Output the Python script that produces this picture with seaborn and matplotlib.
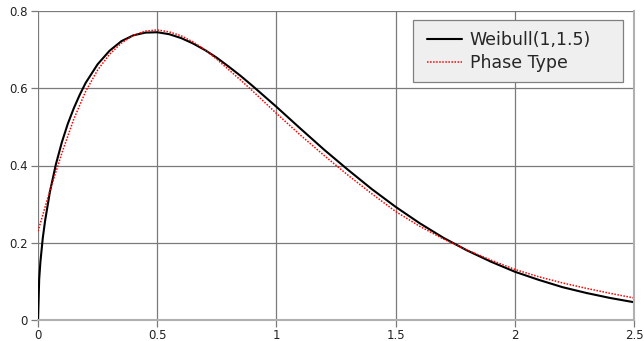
import matplotlib
matplotlib.use("Agg")
import matplotlib.pyplot as plt
from matplotlib.patches import Rectangle
import seaborn as sns
import pandas as pd

# Weibull(1,1.5) density
weibull_x = [0.0, 0.005, 0.01, 0.02, 0.03, 0.05, 0.075, 0.1, 0.125, 0.15, 0.175, 0.2, 0.25,
             0.3, 0.35, 0.4, 0.45, 0.5, 0.55, 0.6, 0.65, 0.7, 0.75, 0.8, 0.85, 0.9, 0.95,
             1.0, 1.1, 1.2, 1.3, 1.4, 1.5, 1.6, 1.7, 1.8, 1.9,
             2.0, 2.1, 2.2, 2.3, 2.4, 2.5]
weibull_y = [0.0, 0.106, 0.150, 0.212, 0.258, 0.332, 0.403, 0.460, 0.508, 0.548, 0.583, 0.614,
             0.662, 0.697, 0.722, 0.737, 0.744, 0.745, 0.740, 0.730, 0.716, 0.699, 0.679,
             0.656, 0.632, 0.606, 0.579, 0.552, 0.496, 0.441, 0.389,
             0.339, 0.293, 0.251, 0.213, 0.180, 0.151, 0.125, 0.104, 0.085, 0.070, 0.057, 0.046]

# Phase type approximation
phase_x = [0.0, 0.05, 0.1, 0.15, 0.2, 0.25, 0.3, 0.35, 0.4, 0.45, 0.5, 0.55, 0.6, 0.65, 0.7,
           0.75, 0.8, 0.85, 0.9, 1.0, 1.1, 1.2, 1.3, 1.4, 1.5, 1.6, 1.7, 1.8, 1.9, 2.0,
           2.1, 2.2, 2.3, 2.4, 2.5]
phase_y = [0.230, 0.335, 0.432, 0.520, 0.592, 0.647, 0.688, 0.717, 0.737, 0.748, 0.751, 0.746,
           0.736, 0.720, 0.700, 0.675, 0.648, 0.621, 0.593, 0.535, 0.479, 0.426, 0.375,
           0.327, 0.281, 0.243, 0.210, 0.181, 0.155, 0.131, 0.112, 0.096, 0.082, 0.069, 0.057]

x_ticks = [0, 0.5, 1, 1.5, 2, 2.5]
x_labels = ["0", "0.5", "1", "1.5", "2", "2.5"]
y_ticks = [0, 0.2, 0.4, 0.6, 0.8]
y_labels = ["0", "0.2", "0.4", "0.6", "0.8"]

sns.set_style("white")
plt.rcParams["font.family"] = ["DejaVu Sans"]

df_w = pd.DataFrame({"x": weibull_x, "y": weibull_y})
df_p = pd.DataFrame({"x": phase_x, "y": phase_y})

fig = plt.figure(figsize=(6.44, 3.41), dpi=100)
ax = fig.add_axes([38 / 644, 21 / 341, 596 / 644, 309 / 341])

sns.lineplot(data=df_w, x="x", y="y", ax=ax, color="black", linewidth=1.5,
             label="Weibull(1,1.5)")
sns.lineplot(data=df_p, x="x", y="y", ax=ax, color="#ff0000", linewidth=1.1,
             linestyle=(0, (1, 1)), label="Phase Type")

ax.set_xlim(0, 2.5)
ax.set_ylim(0, 0.8)
ax.set_xticks(x_ticks)
ax.set_xticklabels(x_labels)
ax.set_yticks(y_ticks)
ax.set_yticklabels(y_labels)
ax.set_xlabel("")
ax.set_ylabel("")
ax.grid(True, color="#7a7a7a", linewidth=0.9)
ax.set_axisbelow(True)
for s in ["top", "left"]:
    ax.spines[s].set_visible(False)
for s in ["right", "bottom"]:
    ax.spines[s].set_color("#b0b0b0")
    ax.spines[s].set_linewidth(1.5)
ax.tick_params(axis="both", labelsize=8.5, colors="#7a7a7a", labelcolor="#222222",
               length=5, width=0.9, direction="out", left=True, bottom=True)
ax.tick_params(axis="x", pad=1.5)
ax.tick_params(axis="y", pad=2.5)

# legend box background (fixed size as in the reference)
box = Rectangle((0.629, 0.770), 0.9815 - 0.629, 0.971 - 0.770, transform=ax.transAxes,
                facecolor="#efefef", edgecolor="#808080", linewidth=0.9, zorder=4)
ax.add_patch(box)

leg = ax.legend(loc="upper left", bbox_to_anchor=(0.6527, 0.936), borderaxespad=0,
                borderpad=0, fontsize=12.5, frameon=False, handlelength=2.0,
                handletextpad=0.45, labelspacing=0.32)
leg.set_zorder(5)

fig.savefig("out.png", dpi=100)
